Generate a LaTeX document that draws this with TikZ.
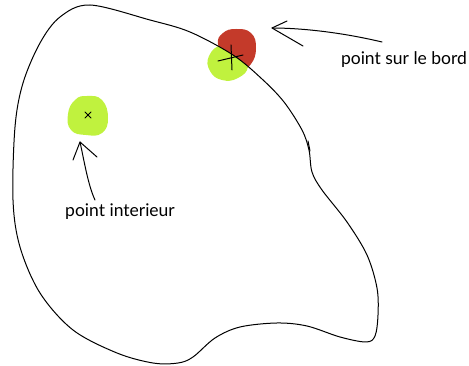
\documentclass[tikz,border=0pt]{standalone}
\usepackage{fontspec}
\setmainfont{Lato}
\definecolor{blobred}{RGB}{196,58,42}
\definecolor{blobgreen}{RGB}{192,242,62}
\begin{document}
\begin{tikzpicture}[x=1pt,y=-1pt,
  outline/.style={line width=1pt,line join=round},
  pen/.style={line width=1pt,line cap=round,line join=round},
  lbl/.style={font=\fontsize{17.5}{20}\selectfont,inner sep=0pt}]
\useasboundingbox (0,0) rectangle (469,366);
\def\blobpath{plot[smooth cycle,tension=0.55] coordinates {
 (90,5) (150,20) (190,32) (233,55) (262,79) (284,102) (302,130) (309,150)
 (312,172) (322,190) (347,222) (367,255) (377,288) (378,315) (375,336)
 (366,342) (340,337) (307,326) (277,323) (240,327) (215,338) (193,357)
 (178,363) (153,363) (117,353) (73,330) (40,293) (20,247) (13,200)
 (15,127) (23,83) (40,43) (60,17)}}
% red blob (edge point)
\fill[blobred] plot[smooth cycle,tension=0.8] coordinates {(236,29) (251,33) (256,48) (251,64) (240,69) (226,60) (218,44) (223,33)};
% green part of edge blob, inside
\begin{scope}
\clip \blobpath;
\fill[blobgreen] plot[smooth cycle,tension=0.8] coordinates {(222,45) (240,50) (248,66) (238,78) (222,80) (210,71) (209,56)};
\end{scope}
% interior blob
\fill[blobgreen] plot[smooth cycle,tension=0.8] coordinates {(87,96) (102,100) (108,118) (102,133) (86,135) (71,130) (68,114) (75,100)};
% outline
\draw[outline] \blobpath;
\draw[pen] (308,141) -- (310,151);
% edge point cross
\coordinate (pe) at (232,57);
\draw[pen] (231,45) -- (232,70);
\draw[pen] (218,61) -- (243,55);
% interior cross
\coordinate (pi) at (88,115);
\draw[pen,line width=0.9pt] (85,112) -- (91,118) (91,112) -- (85,118);
% labels
\node[lbl] (lb) at (404,60) {point sur le bord};
\node[lbl] (li) at (120,212) {point interieur};
% arrow to edge point
\coordinate (ta) at (272,28);
\coordinate (ts) at (382,42);
\draw[pen] (ts) .. controls (340,32) and (300,28) .. (ta);
\draw[pen] (287,21) -- (ta) -- (303,46);
% arrow to interior point
\coordinate (ia) at (80,142);
\coordinate (is) at (95,200);
\draw[pen] (is) .. controls (88,185) and (84,160) .. (ia);
\draw[pen] (73,160) -- (ia) -- (97,157);
\end{tikzpicture}
\end{document}
